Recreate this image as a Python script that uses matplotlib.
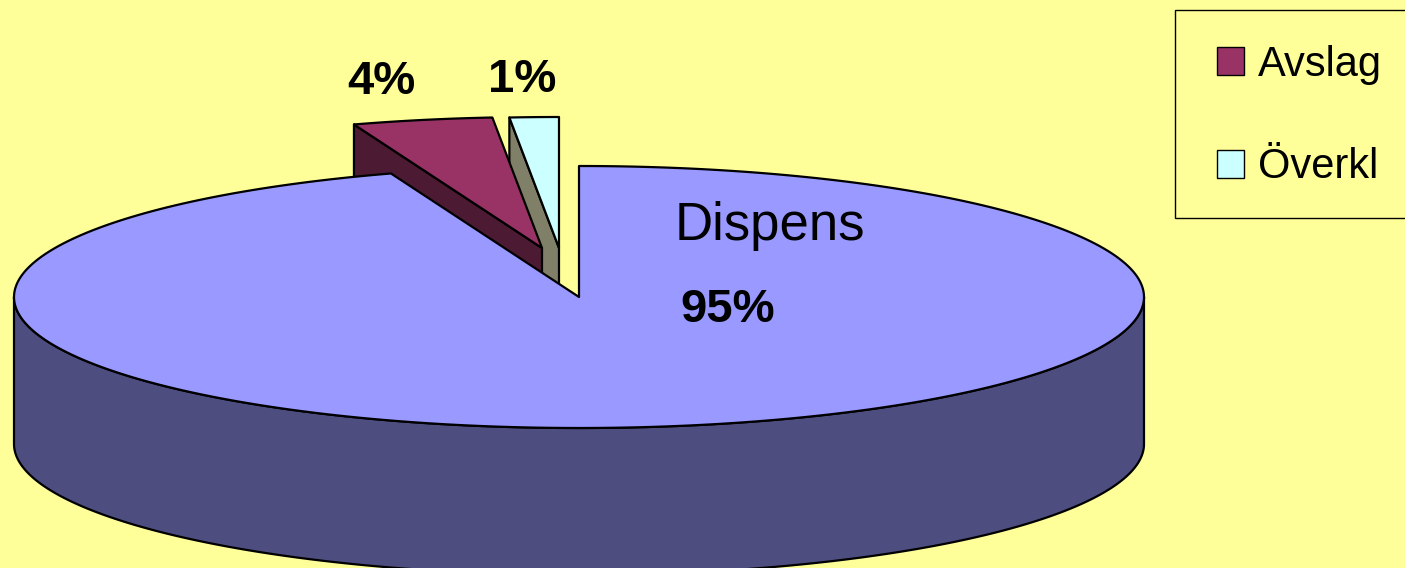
import numpy as np
import matplotlib
matplotlib.use("Agg")
import matplotlib.pyplot as plt
from matplotlib.patches import Polygon, Patch, Rectangle

# data
labels = ["Dispens", "Avslag", "Överkl"]
values = [94.6, 4.0, 1.4]

top_colors = ["#9999FF", "#993366", "#CCFFFF"]
side_colors = ["#4D4D80", "#4D1A33", "#808068"]
bg = "#FFFF99"

# geometry of the projected pie (pixel space)
cx, cy = 579, 297
a, b = 565, 131
depth = 147
offsets = [(0, 0), (-37, -49), (-20, -49)]

plt.rcParams['font.family'] = ['Liberation Sans', 'DejaVu Sans']

fig = plt.figure(figsize=(14.05, 5.68), dpi=100, facecolor=bg)
ax = fig.add_axes([0, 0, 1, 1])
ax.set_xlim(0, 1405)
ax.set_ylim(568, 0)
ax.set_facecolor(bg)
ax.axis("off")


def pt(th, z, off):
    return (cx + off[0] + a * np.cos(th), cy + off[1] - b * np.sin(th) + z)


def arc(t0, t1, z, off, n=300):
    ts = np.linspace(t0, t1, n)
    return [pt(t, z, off) for t in ts]


fracs = np.array(values) / sum(values)
starts = np.radians(90 - 360 * np.concatenate([[0], np.cumsum(fracs)[:-1]]))
ends = starts - np.radians(360 * fracs)

lw = 1.6
for i in [2, 1, 0]:
    t0, t1 = starts[i], ends[i]
    off = offsets[i]
    c0 = (cx + off[0], cy + off[1])
    c1 = (c0[0], c0[1] + depth)
    # radial side faces
    for t, vis in [(t0, np.cos(t0) < -1e-6), (t1, np.cos(t1) > 1e-6)]:
        if vis:
            p0, p1 = pt(t, 0, off), pt(t, depth, off)
            ax.add_patch(Polygon([c0, p0, p1, c1], closed=True, fc=side_colors[i],
                                 ec="black", lw=lw, joinstyle="round"))
    # outer front wall
    for k in range(-1, 2):
        lo = max(t1, np.radians(-180 + 360 * k))
        hi = min(t0, np.radians(0 + 360 * k))
        if lo < hi:
            wall = arc(hi, lo, 0, off) + arc(lo, hi, depth, off)
            ax.add_patch(Polygon(wall, closed=True, fc=side_colors[i], ec="black",
                                 lw=lw, joinstyle="round"))
    # top face
    ax.add_patch(Polygon([c0] + arc(t0, t1, 0, off), closed=True, fc=top_colors[i],
                         ec="black", lw=lw, joinstyle="round"))

pct = ["%.0f%%" % (100 * f) for f in fracs]
ax.text(770, 240, labels[0], fontsize=38, ha="center", va="baseline")
ax.text(728, 322, pct[0], fontsize=34, fontweight="bold", ha="center", va="baseline")
ax.text(381, 94, pct[1], fontsize=34, fontweight="bold", ha="center", va="baseline")
ax.text(522, 92, pct[2], fontsize=34, fontweight="bold", ha="center", va="baseline")

# legend box (runs past the right edge)
ax.add_patch(Rectangle((1175, 10), 300, 208, fc=bg, ec="black", lw=1, zorder=4))
handles = [Patch(fc=top_colors[i], ec="black", lw=1) for i in (1, 2)]
leg = ax.legend(handles, labels[1:], loc="upper left", bbox_to_anchor=(1217, 45),
                bbox_transform=ax.transData, borderaxespad=0, borderpad=0,
                fontsize=30, frameon=False, handlelength=0.65, handleheight=0.65,
                handletextpad=0.33, labelspacing=1.5)
leg.set_zorder(5)

fig.savefig("out.png", dpi=100, facecolor=bg)
